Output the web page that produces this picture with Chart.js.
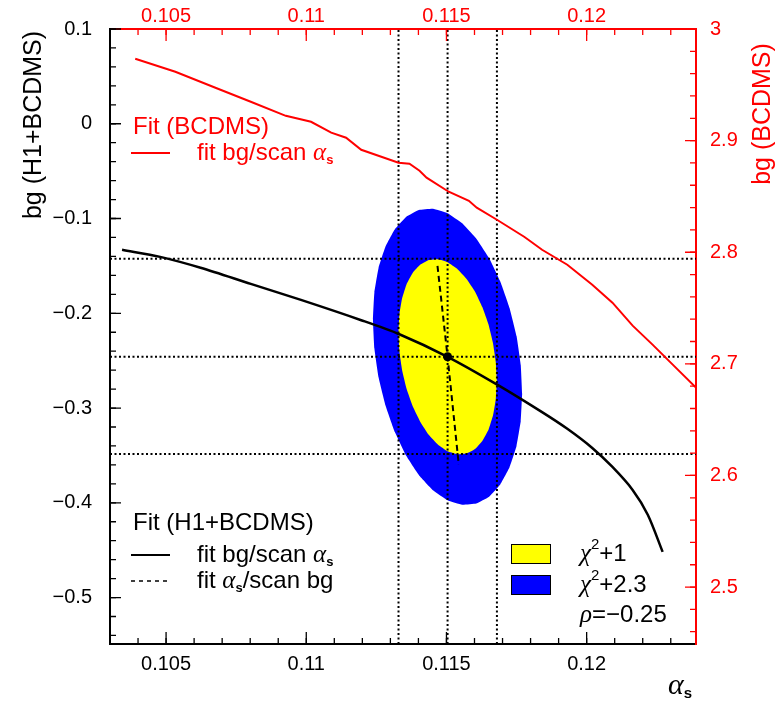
<!DOCTYPE html>
<html>
<head>
<meta charset="utf-8">
<script src="https://cdn.jsdelivr.net/npm/chart.js@4.4.1/dist/chart.umd.min.js"></script>
<style>
  html, body { margin: 0; padding: 0; background: #fff; }
</style>
</head>
<body>
<canvas id="fitChart" width="782" height="703"></canvas>
<script>
// axis ranges and tick labels
const alphaRange = [0.103, 0.1239];
const bgRange = [-0.549, 0.1];
const bgBcdmsRange = [2.449, 3.0];
const alphaTicks = [0.105, 0.11, 0.115, 0.12];
const bgTicks = [0.1, 0, -0.1, -0.2, -0.3, -0.4, -0.5];
const bgBcdmsTicks = [3, 2.9, 2.8, 2.7, 2.6, 2.5];

// H1+BCDMS fit: 1 sigma band edges and central value (lo, centre, hi)
const alphaBand = [0.11329, 0.11504, 0.1168];
const bgBand = [-0.1425, -0.2459, -0.3486];

// H1+BCDMS: fit bg / scan alpha_s
const scanAlpha = [0.10343, 0.10479, 0.10623, 0.10802, 0.10981, 0.11196, 0.11332, 0.11504, 0.11684, 0.11841, 0.11931, 0.12020, 0.12092, 0.12164, 0.12218, 0.12271];
const scanBg = [-0.1330, -0.1405, -0.1520, -0.1690, -0.1859, -0.2073, -0.2221, -0.2459, -0.2758, -0.3043, -0.3219, -0.3421, -0.3622, -0.3864, -0.4126, -0.4518];

// H1+BCDMS: fit alpha_s / scan bg
const scanBgAlpha = [0.11468, 0.11504, 0.11544];
const scanBgBg = [-0.1500, -0.2459, -0.3600];

// BCDMS only: fit bg / scan alpha_s (right and top axes)
const bcdmsAlpha = [0.10390, 0.10533, 0.10676, 0.10802, 0.10927, 0.11017, 0.11089, 0.11142, 0.11196, 0.11329, 0.11368, 0.11404, 0.11429, 0.11508, 0.11580, 0.11608, 0.11680, 0.11777, 0.11787, 0.11841, 0.11931, 0.12020, 0.12092, 0.12164, 0.12235, 0.12307, 0.12397];
const bcdmsBg = [2.9733, 2.9617, 2.9474, 2.9348, 2.9222, 2.9169, 2.9071, 2.9026, 2.8918, 2.8802, 2.8793, 2.8730, 2.8668, 2.8542, 2.8461, 2.8399, 2.8291, 2.8139, 2.8121, 2.8022, 2.7888, 2.7709, 2.7548, 2.7342, 2.7172, 2.6993, 2.6770];

// contour chi2+1 (yellow)
const chi1Alpha = [0.11680, 0.11676, 0.11666, 0.11650, 0.11628, 0.11602, 0.11571, 0.11538, 0.11504, 0.11470, 0.11437, 0.11407, 0.11380, 0.11358, 0.11342, 0.11332,
    0.11329, 0.11332, 0.11342, 0.11358, 0.11380, 0.11407, 0.11437, 0.11470, 0.11504, 0.11538, 0.11571, 0.11602, 0.11628, 0.11650, 0.11666, 0.11676, 0.11680];
const chi1Bg = [-0.2717, -0.2517, -0.2315, -0.2119, -0.1935, -0.1772, -0.1635, -0.1530, -0.1461, -0.1430, -0.1438, -0.1486, -0.1571, -0.1690, -0.1839, -0.2012,
    -0.2201, -0.2401, -0.2603, -0.2799, -0.2983, -0.3146, -0.3283, -0.3388, -0.3457, -0.3488, -0.3480, -0.3432, -0.3347, -0.3228, -0.3079, -0.2906, -0.2717];
// contour chi2+2.3 (blue)
const chi23Alpha = [0.11770, 0.11765, 0.11750, 0.11725, 0.11692, 0.11652, 0.11606, 0.11556, 0.11504, 0.11452, 0.11402, 0.11356, 0.11316, 0.11283, 0.11258, 0.11243,
    0.11238, 0.11243, 0.11258, 0.11283, 0.11316, 0.11356, 0.11402, 0.11452, 0.11504, 0.11556, 0.11606, 0.11652, 0.11692, 0.11725, 0.11750, 0.11765, 0.11770];
const chi23Bg = [-0.2850, -0.2547, -0.2241, -0.1943, -0.1665, -0.1417, -0.1210, -0.1051, -0.0945, -0.0898, -0.0911, -0.0983, -0.1112, -0.1293, -0.1519, -0.1780,
    -0.2068, -0.2371, -0.2677, -0.2975, -0.3253, -0.3501, -0.3708, -0.3867, -0.3973, -0.4020, -0.4007, -0.3935, -0.3806, -0.3625, -0.3400, -0.3138, -0.2850];

const SANS = '"Liberation Sans", Arial, sans-serif';
const SERIF = '"Liberation Serif", "Times New Roman", serif';
const RED = '#ff0000';

const toPts = (xs, ys) => xs.map((x, i) => ({ x, y: ys[i] }));
const fmt = v => String(Math.round(v * 10000) / 10000).replace('-', '\u2212');

const dotted = (pts) => ({
    data: pts, pointRadius: 0, borderColor: '#000',
    borderWidth: 2, borderDash: [2, 2.5], tension: 0, order: 4
});

const datasets = [
    // best fit point
    { data: [{ x: alphaBand[1], y: bgBand[1] }], showLine: false, pointRadius: 4.5, pointBackgroundColor: '#000', pointBorderWidth: 0, order: 0 },
    { data: toPts(scanBgAlpha, scanBgBg), pointRadius: 0, borderColor: '#000', borderWidth: 2, borderDash: [6, 4], order: 1 },
    { data: toPts(scanAlpha, scanBg), pointRadius: 0, borderColor: '#000', borderWidth: 2.5, tension: 0.3, order: 2 },
    { data: toPts(bcdmsAlpha, bcdmsBg), xAxisID: 'x2', yAxisID: 'y2', pointRadius: 0, borderColor: RED, borderWidth: 2, tension: 0, order: 3 },
    ...alphaBand.map(a => dotted(toPts([a, a], bgRange))),
    ...bgBand.map(b => dotted(toPts(alphaRange, [b, b]))),
    { data: toPts(chi1Alpha, chi1Bg), pointRadius: 0, borderWidth: 0, borderColor: '#ffff00', backgroundColor: '#ffff00', fill: 'shape', tension: 0.1, order: 5 },
    { data: toPts(chi23Alpha, chi23Bg), pointRadius: 0, borderWidth: 0, borderColor: '#0000ff', backgroundColor: '#0000ff', fill: 'shape', tension: 0.1, order: 6 }
];

const axis = (position, range, ticks, color, pad, size) => ({
    type: 'linear', position, min: range[0], max: range[1],
    afterBuildTicks: s => { s.ticks = ticks.map(v => ({ value: v })); },
    afterFit: s => { if (s.isHorizontal()) s.height = size; else s.width = size; },
    ticks: { color, padding: pad, autoSkip: false, maxRotation: 0, font: { family: SANS, size: 20 }, callback: v => fmt(v) },
    grid: { display: false },
    border: { display: true, color, width: 2 }
});

// ticks pointing into the frame, major and minor
const innerTicks = {
    id: 'innerTicks',
    afterDraw(chart) {
        const { ctx, chartArea: a, scales } = chart;
        const minorX = [], minorY = [], minorY2 = [];
        for (let v = 104; v <= 123; v++) minorX.push(v / 1000);
        for (let v = -27; v <= 5; v++) minorY.push(v / 50);
        for (let v = 123; v <= 150; v++) minorY2.push(v / 50);
        const run = (scale, vals, len, color, side) => {
            ctx.strokeStyle = color;
            ctx.lineWidth = 1.3;
            ctx.beginPath();
            vals.forEach(v => {
                const p = scale.getPixelForValue(v);
                if (side === 'bottom') { ctx.moveTo(p, a.bottom); ctx.lineTo(p, a.bottom - len); }
                if (side === 'top') { ctx.moveTo(p, a.top); ctx.lineTo(p, a.top + len); }
                if (side === 'left') { ctx.moveTo(a.left, p); ctx.lineTo(a.left + len, p); }
                if (side === 'right') { ctx.moveTo(a.right, p); ctx.lineTo(a.right - len, p); }
            });
            ctx.stroke();
        };
        ctx.save();
        run(scales.x, alphaTicks, 12, '#000', 'bottom');
        run(scales.x, minorX, 6, '#000', 'bottom');
        run(scales.x2, alphaTicks, 12, RED, 'top');
        run(scales.x2, minorX, 6, RED, 'top');
        run(scales.y, bgTicks, 11, '#000', 'left');
        run(scales.y, minorY, 6, '#000', 'left');
        run(scales.y2, bgBcdmsTicks, 11, RED, 'right');
        run(scales.y2, minorY2, 6, RED, 'right');
        ctx.restore();
    }
};

// text made of runs: n normal, g italic greek, s subscript, p superscript
const FONTS = {
    n: [`24px ${SANS}`, 0],
    g: [`italic 25px ${SERIF}`, 0],
    s: [`bold 13px ${SANS}`, 7],
    p: [`15px ${SANS}`, -9],
    G: [`italic 30px ${SERIF}`, 0],
    S: [`bold 15px ${SANS}`, 8]
};
function rich(ctx, x, y, parts, color) {
    ctx.fillStyle = color;
    ctx.textBaseline = 'middle';
    ctx.textAlign = 'left';
    parts.forEach(([t, k]) => {
        ctx.font = FONTS[k][0];
        ctx.fillText(t, x, y + FONTS[k][1]);
        x += ctx.measureText(t).width;
    });
}
function sample(ctx, x0, x1, y, color, dash, w) {
    ctx.strokeStyle = color;
    ctx.lineWidth = w;
    ctx.setLineDash(dash);
    ctx.beginPath();
    ctx.moveTo(x0, y);
    ctx.lineTo(x1, y);
    ctx.stroke();
    ctx.setLineDash([]);
}

const labels = {
    id: 'labels',
    afterDraw(chart) {
        const ctx = chart.ctx;
        ctx.save();
        // axis titles
        ctx.font = `25px ${SANS}`;
        ctx.textAlign = 'center';
        ctx.textBaseline = 'middle';
        ctx.save();
        ctx.translate(34, 125);
        ctx.rotate(-Math.PI / 2);
        ctx.fillStyle = '#000';
        ctx.fillText('bg (H1+BCDMS)', 0, 0);
        ctx.restore();
        ctx.save();
        ctx.translate(763, 114);
        ctx.rotate(-Math.PI / 2);
        ctx.fillStyle = RED;
        ctx.fillText('bg (BCDMS)', 0, 0);
        ctx.restore();
        rich(ctx, 668, 686, [['α', 'G'], ['s', 'S']], '#000');

        // BCDMS legend
        rich(ctx, 133, 127, [['Fit (BCDMS)', 'n']], RED);
        sample(ctx, 131, 170, 153, RED, [], 2);
        rich(ctx, 197, 153, [['fit bg/scan ', 'n'], ['α', 'g'], ['s', 's']], RED);

        // H1+BCDMS legend
        rich(ctx, 133, 523, [['Fit (H1+BCDMS)', 'n']], '#000');
        sample(ctx, 131, 170, 555, '#000', [], 2);
        rich(ctx, 197, 555, [['fit bg/scan ', 'n'], ['α', 'g'], ['s', 's']], '#000');
        sample(ctx, 131, 170, 581, '#000', [4, 4], 1.5);
        rich(ctx, 197, 581, [['fit ', 'n'], ['α', 'g'], ['s', 's'], ['/scan bg', 'n']], '#000');

        // contour legend
        ctx.lineWidth = 1;
        ctx.strokeStyle = '#000';
        ctx.fillStyle = '#ffff00';
        ctx.fillRect(511, 544, 39, 19);
        ctx.strokeRect(511.5, 544.5, 39, 19);
        ctx.fillStyle = '#0000ff';
        ctx.fillRect(511, 575, 39, 19);
        ctx.strokeRect(511.5, 575.5, 39, 19);
        rich(ctx, 580, 554, [['χ', 'g'], ['2', 'p'], ['+1', 'n']], '#000');
        rich(ctx, 580, 585, [['χ', 'g'], ['2', 'p'], ['+2.3', 'n']], '#000');
        rich(ctx, 580, 615, [['ρ', 'g'], ['=\u22120.25', 'n']], '#000');
        ctx.restore();
    }
};

new Chart(document.getElementById('fitChart'), {
    type: 'line',
    data: { datasets },
    options: {
        responsive: false,
        devicePixelRatio: 1,
        animation: false,
        layout: { padding: 0 },
        plugins: { legend: { display: false }, tooltip: { enabled: false } },
        scales: {
            x: axis('bottom', alphaRange, alphaTicks, '#000', 0, 59),
            x2: axis('top', alphaRange, alphaTicks, RED, -7, 29),
            y: axis('left', bgRange, bgTicks, '#000', 10, 110),
            y2: axis('right', bgBcdmsRange, bgBcdmsTicks, RED, 6, 86)
        }
    },
    plugins: [innerTicks, labels]
});
</script>
</body>
</html>
